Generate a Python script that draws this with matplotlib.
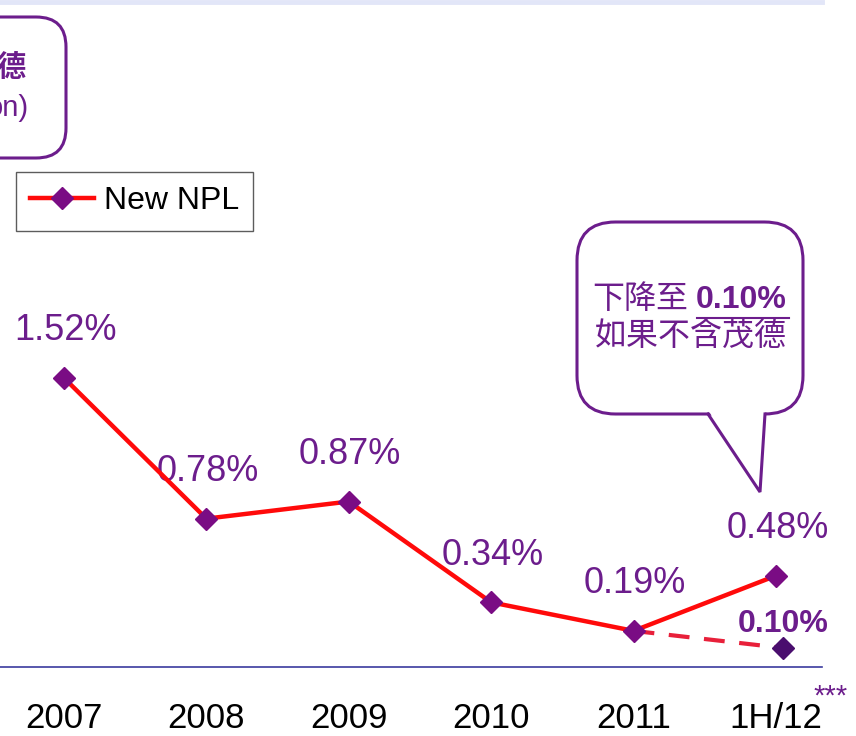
import matplotlib
matplotlib.use("Agg")
import matplotlib.pyplot as plt
from matplotlib.patches import FancyBboxPatch, Polygon
from matplotlib.lines import Line2D

plt.rcParams["font.family"] = ["Liberation Sans", "Noto Sans CJK TC", "DejaVu Sans"]

# data
periods = ["2007", "2008", "2009", "2010", "2011", "1H/12"]
new_npl = [1.52, 0.78, 0.87, 0.34, 0.19, 0.48]
excl_promos = 0.10  # 1H/12 excluding ProMOS
bubble_lines = ["下降至", "0.10%", "如果不含茂德"]
left_box_lines = ["德", "on)"]  # only the visible tail of the cropped box text

PURPLE = "#6C1D8C"
MARKER = "#7A0C84"
DARK_MARKER = "#4A0E6E"
RED = "#FF0A0A"
W, H = 856, 736


def fx(x):
    return x / W


def fy(y):
    return 1 - y / H


fig = plt.figure(figsize=(W / 100, H / 100), dpi=100)
ax = fig.add_axes([0, 69 / H, 822 / W, 667 / H])

x = list(range(len(periods)))
ax.plot(x, new_npl, color=RED, lw=3.2, marker="D", ms=11.5,
        mfc=MARKER, mec=MARKER, zorder=4, label="New NPL")
x_ex = x[-1] + 0.05
ax.plot([x[-2], x_ex], [new_npl[-2], excl_promos], color="#E8203A", lw=3,
        ls=(0, (5, 3.5)), zorder=3)
ax.plot([x_ex], [excl_promos], marker="D", ms=11.5, mfc=DARK_MARKER,
        mec=DARK_MARKER, ls="none", zorder=5)

for xi, v in zip(x, new_npl):
    ax.annotate(f"{v:.2f}%", (xi, v), xytext=(1, 34), textcoords="offset points",
                ha="center", va="center", fontsize=26, color=PURPLE)
ax.annotate(f"{excl_promos:.2f}%", (x_ex, excl_promos), xytext=(0, 17),
            textcoords="offset points", ha="center", va="center",
            fontsize=23, fontweight="bold", color=PURPLE)

ax.set_xlim(-0.449, 5.323)
ax.set_ylim(0, 667 / 190.2)
ax.set_xticks(x)
ax.set_xticklabels(periods, fontsize=25)
ax.tick_params(axis="x", length=0, pad=25)
ax.set_yticks([])
for s in ["top", "left", "right"]:
    ax.spines[s].set_visible(False)
ax.spines["bottom"].set_color("#3B3B9E")
ax.spines["bottom"].set_linewidth(1.2)
ax.patch.set_alpha(0)

fig.text(fx(813), fy(697), "***", fontsize=21, color=PURPLE, ha="left", va="center")

leg = ax.legend(loc="upper left", bbox_to_anchor=(fx(16) / (822 / W), 1 - (172 / 667)),
                fontsize=23, frameon=True, fancybox=False, edgecolor="#333333",
                handlelength=2.0, borderpad=0.45, handletextpad=0.3, borderaxespad=0)
leg.get_frame().set_linewidth(1.0)

# light rule along the top
fig.add_artist(Line2D([0, fx(822)], [fy(2), fy(2)], color="#E2E6F8", lw=3.5))

# left callout box (cut off by the slide crop)
box = FancyBboxPatch((fx(-200), fy(158)), fx(266), fy(17) - fy(158),
                     boxstyle="round,pad=0,rounding_size=0.035",
                     transform=fig.transFigure, fc="white", ec=PURPLE, lw=2.2,
                     mutation_aspect=W / H)
fig.add_artist(box)
fig.text(fx(26), fy(68), left_box_lines[0], fontsize=21, color=PURPLE,
         ha="right", va="center", fontweight="bold")
fig.text(fx(29), fy(108), left_box_lines[1], fontsize=21, color=PURPLE,
         ha="right", va="center")

# speech bubble
bubble = FancyBboxPatch((fx(577), fy(414)), fx(803 - 577), fy(222) - fy(414),
                        boxstyle="round,pad=0,rounding_size=0.045",
                        transform=fig.transFigure, fc="white", ec=PURPLE, lw=2.2,
                        mutation_aspect=W / H)
fig.add_artist(bubble)
tail = Polygon([(fx(708), fy(410)), (fx(760), fy(492)), (fx(765), fy(410))],
               closed=True, transform=fig.transFigure, fc="white", ec="none")
fig.add_artist(tail)
fig.add_artist(Line2D([fx(708), fx(760), fx(765)], [fy(414), fy(492), fy(414)],
                      color=PURPLE, lw=2.2, solid_joinstyle="miter"))
fig.text(fx(688), fy(300), bubble_lines[0], fontsize=23, color=PURPLE,
         ha="right", va="center")
fig.text(fx(696), fy(300), bubble_lines[1], fontsize=23, color=PURPLE,
         ha="left", va="center", fontweight="bold")
fig.add_artist(Line2D([fx(697), fx(789)], [fy(318), fy(318)], color=PURPLE, lw=1.5))
fig.text(fx(691), fy(337), bubble_lines[2], fontsize=23, color=PURPLE,
         ha="center", va="center")

fig.savefig("out.png", dpi=100)
